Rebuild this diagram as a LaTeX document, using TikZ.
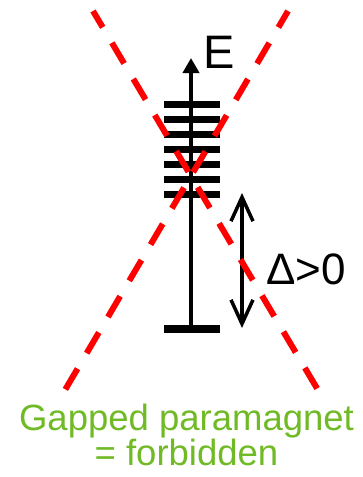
\documentclass[tikz,border=0pt]{standalone}
\usepackage{fontspec}
\setmainfont{Liberation Sans}
\usepackage{xcolor}
\usetikzlibrary{positioning, arrows.meta, calc}

\definecolor{gapgreen}{RGB}{112,186,38}

\begin{document}
\begin{tikzpicture}[
		x=1pt, y=-1pt,
		% --- ESTILOS ---
		axisline/.style={
			draw, line width=4pt, -{Triangle[length=15pt, width=16pt]}
		},
		level/.style={
			draw, line width=7pt
		},
		gaparrow/.style={
			draw, line width=3.5pt, {Straight Barb[length=24pt, width=22pt]}-{Straight Barb[length=24pt, width=22pt]}
		},
		cross/.style={
			draw, red, line width=6pt, dash pattern=on 24pt off 18pt, dash phase=5pt
		},
		biglabel/.style={
			inner sep=0pt, font=\fontsize{47}{47}\selectfont
		},
		verdict/.style={
			inner sep=0pt, align=center, text=gapgreen, font=\fontsize{36.5}{35}\selectfont
		}
		]
		\useasboundingbox (0,0) rectangle (363,477);
		
		% ==========================================
		% 1. Eje de energia
		% ==========================================
		\coordinate (axis_bot) at (191,329);
		\coordinate (axis_top) at (191,58);
		\draw [axisline] (axis_bot) -- (axis_top);
		\node [biglabel, anchor=base west] (elabel) at (203,68) {E};
		
		% ==========================================
		% 2. Niveles
		% ==========================================
		\foreach \i in {0,...,6} {
			\draw [level] ($(axis_top)+(-27,46+15*\i)$) -- ++(56,0);
		}
		\draw [level, line width=8pt] ($(axis_bot)+(-27,0)$) -- ($(axis_bot)+(29,0)$);
		
		% ==========================================
		% 3. Gap
		% ==========================================
		\coordinate (gap_top) at (242,193);
		\coordinate (gap_bot) at (242,328);
		\draw [gaparrow] (gap_bot) -- (gap_top);
		\node [biglabel, font=\fontsize{44}{44}\selectfont, anchor=base west] (gaplabel) at (266,284) {Δ>0};
		
		% ==========================================
		% 4. Cruz roja
		% ==========================================
		\coordinate (cross_a1) at (93,11);
		\coordinate (cross_a2) at (318,390);
		\coordinate (cross_b1) at (288,11);
		\coordinate (cross_b2) at (65,390);
		\draw [cross] (cross_a1) -- (cross_a2);
		\draw [cross] (cross_b1) -- (cross_b2);
		
		% ==========================================
		% 5. Texto final
		% ==========================================
		\node [verdict, anchor=base] (verdict) at (186.5,465) {Gapped paramagnet\\= forbidden};
\end{tikzpicture}
\end{document}
